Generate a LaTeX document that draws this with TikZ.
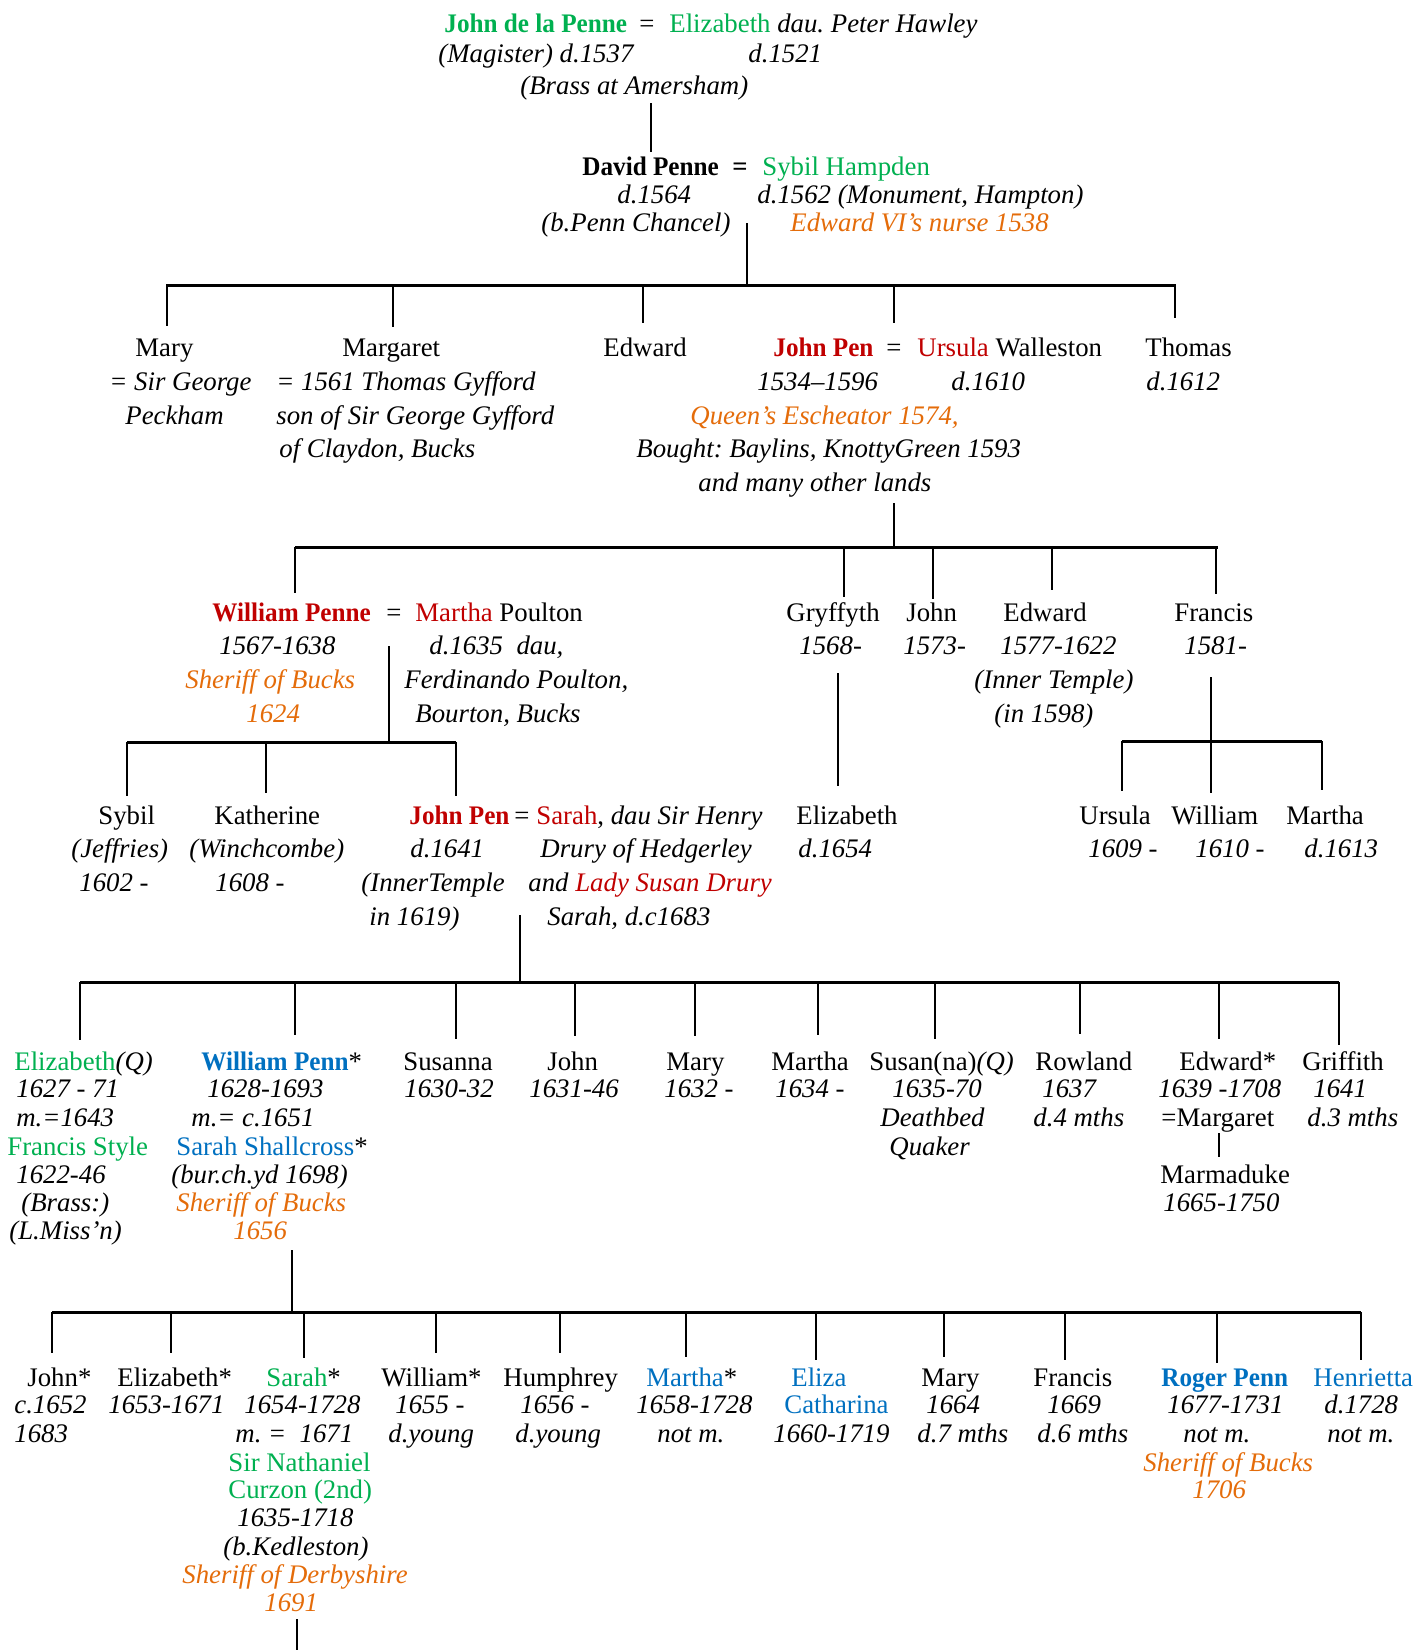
\documentclass[tikz,border=0pt]{standalone}
\usepackage{fontspec}
\setmainfont{Liberation Serif}
\usepackage{xcolor}
\usepackage{graphicx}
\usetikzlibrary{positioning,calc}
\definecolor{namegreen}{RGB}{0,176,80}
\definecolor{namered}{RGB}{192,0,0}
\definecolor{nameblue}{RGB}{0,112,192}
\definecolor{noteorange}{RGB}{228,108,10}
\newcommand{\cgreen}[1]{\textcolor{namegreen}{#1}}
\newcommand{\cred}[1]{\textcolor{namered}{#1}}
\newcommand{\cblue}[1]{\textcolor{nameblue}{#1}}
\newcommand{\bname}[1]{\scalebox{0.94}[1]{\textbf{#1}}}
\frenchspacing

\begin{document}
\begin{tikzpicture}[
    x=0.5pt, y=-0.5pt,
    txt/.style={anchor=base west, inner sep=0pt, font=\fontsize{13.4}{15}\selectfont},
    it/.style={txt, font=\fontsize{13.4}{15}\selectfont\itshape},
    note/.style={it, text=noteorange},
    eq/.style={anchor=base, inner sep=0pt, font=\fontsize{13.4}{15}\selectfont},
    line/.style={line width=1pt},
    bar/.style={line width=1.5pt}
]
    \useasboundingbox (0,0) rectangle (1414,1650);

    % John de la Penne
    \node[txt] (jdlp) at (444,32) {\bname{\cgreen{John de la Penne}}};
    \node[eq] (eq1) at (647,32) {=};
    \node[txt] (eliz1) at (669,32) {\cgreen{Elizabeth} \textit{dau. Peter Hawley}};
    \node[it] (jdlp-a) at (438,62) {(Magister) d.1537};
    \node[it] (eliz1-a) at (748,62) {d.1521};
    \node[it] (jdlp-b) at (520,94) {(Brass at Amersham)};
    \coordinate (g1-top) at (651,103);
    \coordinate (g1-bot) at (651,152);
    \draw[line] (g1-top) -- (g1-bot);

    % David Penne
    \node[txt] (david) at (582,175) {\bname{David Penne}};
    \node[eq] (eq2) at (740,175) {\textbf{=}};
    \node[txt] (sybil) at (762,175) {\cgreen{Sybil Hampden}};
    \node[it] (david-a) at (617,203) {d.1564};
    \node[it] (sybil-a) at (757,203) {d.1562 (Monument, Hampton)};
    \node[it] (david-b) at (541,231) {(b.Penn Chancel)};
    \node[note] (sybil-b) at (790,231) {Edward VI's nurse 1538};
    \coordinate (g2-top) at (747,223);
    \coordinate (bar2L) at (166,285);
    \coordinate (bar2R) at (1176,285);
    \coordinate (up-mary) at (167,326);
    \coordinate (up-margaret) at (393,327);
    \coordinate (up-edward) at (643,323);
    \coordinate (up-johnpen) at (894,323);
    \coordinate (up-thomas) at (1175,318);
    \draw[line] (g2-top) -- (g2-top |- bar2L);
    \draw[bar] (bar2L) -- (bar2R);
    \foreach \c in {up-mary,up-margaret,up-edward,up-johnpen,up-thomas}
        \draw[line] (\c |- bar2L) -- (\c);

    % children of David Penne
    \node[txt] (mary) at (135,356) {Mary};
    \node[it] (mary-a) at (109,390) {= Sir George};
    \node[it] (mary-b) at (125,424) {Peckham};
    \node[txt] (margaret) at (342,356) {Margaret};
    \node[it] (margaret-a) at (276,390) {= 1561 Thomas Gyfford};
    \node[it] (margaret-b) at (276,424) {son of Sir George Gyfford};
    \node[it] (margaret-c) at (279,457) {of Claydon, Bucks};
    \node[txt] (edward) at (603,356) {Edward};
    \node[txt] (johnpen) at (773,356) {\bname{\cred{John Pen}}};
    \node[eq] (eq3) at (894,356) {=};
    \node[txt] (ursula) at (917,356) {\cred{Ursula} Walleston};
    \node[it] (johnpen-a) at (757,390) {1534--1596};
    \node[it] (ursula-a) at (951,390) {d.1610};
    \node[note] (johnpen-b) at (690,424) {Queen's Escheator 1574,};
    \node[it] (johnpen-c) at (636,457) {Bought: Baylins, KnottyGreen 1593};
    \node[it] (johnpen-d) at (698,491) {and many other lands};
    \node[txt] (thomas) at (1145,356) {Thomas};
    \node[it] (thomas-a) at (1146,390) {d.1612};
    \coordinate (g3-top) at (894,503);
    \coordinate (bar3L) at (295,547);
    \coordinate (bar3R) at (1218,547);
    \coordinate (up-william) at (295,593);
    \coordinate (up-gryffyth) at (844,597);
    \coordinate (up-john) at (933,599);
    \coordinate (up-edward2) at (1052,590);
    \coordinate (up-francis) at (1216,594);
    \draw[line] (g3-top) -- (g3-top |- bar3L);
    \draw[bar] (bar3L) -- (bar3R);
    \foreach \c in {up-william,up-gryffyth,up-john,up-edward2,up-francis}
        \draw[line] (\c |- bar3L) -- (\c);

    % children of John Pen
    \node[txt] (william) at (212,621) {\bname{\cred{William Penne}}};
    \node[eq] (eq4) at (394,621) {=};
    \node[txt] (martha) at (415,621) {\cred{Martha} Poulton};
    \node[it] (william-a) at (219,654) {1567-1638};
    \node[it] (martha-a) at (429,654) {d.1635\ \ dau,};
    \node[note] (william-b) at (185,688) {Sheriff of Bucks};
    \node[it] (martha-b) at (404,688) {Ferdinando Poulton,};
    \node[note] (william-c) at (246,722) {1624};
    \node[it] (martha-c) at (415,722) {Bourton, Bucks};
    \node[txt] (gryffyth) at (786,621) {Gryffyth};
    \node[it] (gryffyth-a) at (799,654) {1568-};
    \node[txt] (john) at (906,621) {John};
    \node[it] (john-a) at (903,654) {1573-};
    \node[txt] (edward2) at (1003,621) {Edward};
    \node[it] (edward2-a) at (1000,654) {1577-1622};
    \node[it] (edward2-b) at (974,688) {(Inner Temple)};
    \node[it] (edward2-c) at (994,722) {(in 1598)};
    \node[txt] (francis) at (1174,621) {Francis};
    \node[it] (francis-a) at (1184,654) {1581-};

    \coordinate (g4-top) at (389,646);
    \coordinate (bar4L) at (127,742);
    \coordinate (bar4R) at (456,742);
    \coordinate (up-sybil) at (127,796);
    \coordinate (up-katherine) at (266,793);
    \coordinate (up-johnpen2) at (456,796);
    \draw[line] (g4-top) -- (g4-top |- bar4L);
    \draw[bar] (bar4L) -- (bar4R);
    \foreach \c in {up-sybil,up-katherine,up-johnpen2}
        \draw[line] (\c |- bar4L) -- (\c);

    \coordinate (gry-top) at (838,673);
    \coordinate (gry-bot) at (838,786);
    \draw[line] (gry-top) -- (gry-bot);

    \coordinate (fr-top) at (1211,677);
    \coordinate (bar5L) at (1122,741);
    \coordinate (bar5R) at (1322,741);
    \coordinate (up-ursula) at (1122,791);
    \coordinate (up-william2) at (1211,793);
    \coordinate (up-martha2) at (1322,790);
    \draw[line] (fr-top) -- (fr-top |- bar5L);
    \draw[bar] (bar5L) -- (bar5R);
    \foreach \c in {up-ursula,up-william2,up-martha2}
        \draw[line] (\c |- bar5L) -- (\c);

    % grandchildren
    \node[txt] (sybil2) at (98,824) {Sybil};
    \node[it] (sybil2-a) at (71,857) {(Jeffries)};
    \node[it] (sybil2-b) at (79,891) {1602 -};
    \node[txt] (katherine) at (214,824) {Katherine};
    \node[it] (katherine-a) at (189,857) {(Winchcombe)};
    \node[it] (katherine-b) at (215,891) {1608 -};
    \node[txt] (johnpen2) at (409,824) {\bname{\cred{John Pen}}};
    \node[eq] (eq5) at (522,824) {=};
    \node[txt] (sarah) at (536,824) {\cred{Sarah}, \textit{dau Sir Henry}};
    \node[it] (johnpen2-a) at (410,857) {d.1641};
    \node[it] (sarah-a) at (540,857) {Drury of Hedgerley};
    \node[it] (johnpen2-b) at (361,891) {(InnerTemple};
    \node[it] (sarah-b) at (528,891) {and \cred{Lady Susan Drury}};
    \node[it] (johnpen2-c) at (369,925) {in 1619)};
    \node[it] (sarah-c) at (547,925) {Sarah, d.c1683};
    \node[txt] (elizabeth) at (796,824) {Elizabeth};
    \node[it] (elizabeth-a) at (798,857) {d.1654};
    \node[txt] (ursula2) at (1079,824) {Ursula};
    \node[it] (ursula2-a) at (1088,857) {1609 -};
    \node[txt] (william2) at (1171,824) {William};
    \node[it] (william2-a) at (1195,857) {1610 -};
    \node[txt] (martha2) at (1286,824) {Martha};
    \node[it] (martha2-a) at (1304,857) {d.1613};

    \coordinate (g5-top) at (520,915);
    \coordinate (bar6L) at (80,982);
    \coordinate (bar6R) at (1339,982);
    \coordinate (up-elizq) at (80,1040);
    \coordinate (up-wpenn) at (295,1035);
    \coordinate (up-susanna) at (456,1039);
    \coordinate (up-john3) at (575,1036);
    \coordinate (up-mary3) at (695,1036);
    \coordinate (up-martha3) at (818,1035);
    \coordinate (up-susan) at (935,1039);
    \coordinate (up-rowland) at (1080,1034);
    \coordinate (up-edward3) at (1219,1039);
    \coordinate (up-griffith) at (1339,1045);
    \draw[line] (g5-top) -- (g5-top |- bar6L);
    \draw[bar] (bar6L) -- (bar6R);
    \foreach \c in {up-elizq,up-wpenn,up-susanna,up-john3,up-mary3,up-martha3,up-susan,up-rowland,up-edward3,up-griffith}
        \draw[line] (\c |- bar6L) -- (\c);

    % children of John Pen and Sarah
    \node[txt] (elizq) at (14,1070) {\cgreen{Elizabeth}\textit{(Q)}};
    \node[it] (elizq-a) at (16,1097) {1627 - 71};
    \node[it] (elizq-b) at (16,1126) {m.=1643};
    \node[txt] (style) at (7,1155) {\cgreen{Francis Style}};
    \node[it] (style-a) at (16,1183) {1622-46};
    \node[it] (style-b) at (21,1211) {(Brass:)};
    \node[it] (style-c) at (9,1239) {(L.Miss'n)};
    \node[txt] (wpenn) at (201,1070) {\bname{\cblue{William Penn}}*};
    \node[it] (wpenn-a) at (207,1097) {1628-1693};
    \node[it] (wpenn-b) at (191,1126) {m.= c.1651};
    \node[txt] (shallcross) at (176,1155) {\cblue{Sarah Shallcross}*};
    \node[it] (shallcross-a) at (171,1183) {(bur.ch.yd 1698)};
    \node[note] (wpenn-c) at (176,1211) {Sheriff of Bucks};
    \node[note] (wpenn-d) at (233,1239) {1656};
    \node[txt] (susanna) at (403,1070) {Susanna};
    \node[it] (susanna-a) at (404,1097) {1630-32};
    \node[txt] (john3) at (547,1070) {John};
    \node[it] (john3-a) at (529,1097) {1631-46};
    \node[txt] (mary3) at (666,1070) {Mary};
    \node[it] (mary3-a) at (664,1097) {1632 -};
    \node[txt] (martha3) at (771,1070) {Martha};
    \node[it] (martha3-a) at (775,1097) {1634 -};
    \node[txt] (susan) at (869,1070) {Susan(na)\textit{(Q)}};
    \node[it] (susan-a) at (892,1097) {1635-70};
    \node[it] (susan-b) at (880,1126) {Deathbed};
    \node[it] (susan-c) at (889,1155) {Quaker};
    \node[txt] (rowland) at (1035,1070) {Rowland};
    \node[it] (rowland-a) at (1042,1097) {1637};
    \node[it] (rowland-b) at (1033,1126) {d.4 mths};
    \node[txt] (edward3) at (1179,1070) {Edward*};
    \node[it] (edward3-a) at (1158,1097) {1639 -1708};
    \node[txt] (edward3-b) at (1161,1126) {=Margaret};
    \node[txt] (marmaduke) at (1160,1183) {Marmaduke};
    \node[it] (marmaduke-a) at (1163,1211) {1665-1750};
    \coordinate (ed-top) at (1219,1133);
    \coordinate (ed-bot) at (1219,1157);
    \draw[line] (ed-top) -- (ed-bot);
    \node[txt] (griffith) at (1302,1070) {Griffith};
    \node[it] (griffith-a) at (1313,1097) {1641};
    \node[it] (griffith-b) at (1307,1126) {d.3 mths};

    \coordinate (g6-top) at (292,1250);
    \coordinate (bar7L) at (52,1312);
    \coordinate (bar7R) at (1361,1312);
    \coordinate (up-john4) at (52,1353);
    \coordinate (up-eliz4) at (171,1353);
    \coordinate (up-sarah4) at (304,1358);
    \coordinate (up-william4) at (436,1353);
    \coordinate (up-humphrey) at (560,1353);
    \coordinate (up-martha4) at (686,1357);
    \coordinate (up-eliza) at (816,1360);
    \coordinate (up-mary4) at (944,1357);
    \coordinate (up-francis4) at (1065,1360);
    \coordinate (up-roger) at (1217,1363);
    \coordinate (up-henrietta) at (1361,1360);
    \draw[line] (g6-top) -- (g6-top |- bar7L);
    \draw[bar] (bar7L) -- (bar7R);
    \foreach \c in {up-john4,up-eliz4,up-sarah4,up-william4,up-humphrey,up-martha4,up-eliza,up-mary4,up-francis4,up-roger,up-henrietta}
        \draw[line] (\c |- bar7L) -- (\c);

    % children of William Penn
    \node[txt] (john4) at (27,1386) {John*};
    \node[it] (john4-a) at (14,1413) {c.1652};
    \node[it] (john4-b) at (14,1442) {1683};
    \node[txt] (eliz4) at (117,1386) {Elizabeth*};
    \node[it] (eliz4-a) at (108,1413) {1653-1671};
    \node[txt] (sarah4) at (266,1386) {\cgreen{Sarah}*};
    \node[it] (sarah4-a) at (244,1413) {1654-1728};
    \node[it] (sarah4-b) at (235,1442) {m. = \ 1671};
    \node[txt] (curzon) at (228,1471) {\cgreen{Sir Nathaniel}};
    \node[txt] (curzon-a) at (228,1498) {\cgreen{Curzon (2nd)}};
    \node[it] (curzon-b) at (237,1526) {1635-1718};
    \node[it] (curzon-c) at (223,1555) {(b.Kedleston)};
    \node[note] (curzon-d) at (182,1583) {Sheriff of Derbyshire};
    \node[note] (curzon-e) at (264,1611) {1691};
    \coordinate (g7-top) at (297,1619);
    \coordinate (g7-bot) at (297,1650);
    \draw[line] (g7-top) -- (g7-bot);
    \node[txt] (william4) at (381,1386) {William*};
    \node[it] (william4-a) at (395,1413) {1655 -};
    \node[it] (william4-b) at (388,1442) {d.young};
    \node[txt] (humphrey) at (503,1386) {Humphrey};
    \node[it] (humphrey-a) at (520,1413) {1656 -};
    \node[it] (humphrey-b) at (515,1442) {d.young};
    \node[txt] (martha4) at (646,1386) {\cblue{Martha}*};
    \node[it] (martha4-a) at (636,1413) {1658-1728};
    \node[it] (martha4-b) at (657,1442) {not m.};
    \node[txt] (eliza) at (791,1386) {\cblue{Eliza}};
    \node[txt] (eliza-a) at (784,1413) {\cblue{Catharina}};
    \node[it] (eliza-b) at (773,1442) {1660-1719};
    \node[txt] (mary4) at (921,1386) {Mary};
    \node[it] (mary4-a) at (926,1413) {1664};
    \node[it] (mary4-b) at (917,1442) {d.7 mths};
    \node[txt] (francis4) at (1033,1386) {Francis};
    \node[it] (francis4-a) at (1047,1413) {1669};
    \node[it] (francis4-b) at (1037,1442) {d.6 mths};
    \node[txt] (roger) at (1161,1386) {\bname{\cblue{Roger Penn}}};
    \node[it] (roger-a) at (1167,1413) {1677-1731};
    \node[it] (roger-b) at (1183,1442) {not m.};
    \node[note] (roger-c) at (1143,1471) {Sheriff of Bucks};
    \node[note] (roger-d) at (1192,1498) {1706};
    \node[txt] (henrietta) at (1313,1386) {\cblue{Henrietta}};
    \node[it] (henrietta-a) at (1324,1413) {d.1728};
    \node[it] (henrietta-b) at (1327,1442) {not m.};
\end{tikzpicture}
\end{document}
